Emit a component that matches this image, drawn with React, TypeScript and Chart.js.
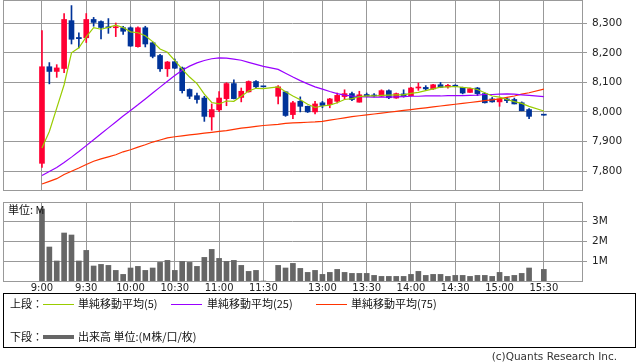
import React, { useEffect, useRef } from "react";
import { Chart, registerables } from "chart.js";

Chart.register(...registerables);

// ---- data ----
const times = [
  "9:00","9:05","9:10","9:15","9:20","9:25","9:30","9:35","9:40","9:45","9:50","9:55",
  "10:00","10:05","10:10","10:15","10:20","10:25","10:30","10:35","10:40","10:45","10:50","10:55",
  "11:00","11:05","11:10","11:15","11:20","11:25","11:30",
  "12:30","12:35","12:40","12:45","12:50","12:55",
  "13:00","13:05","13:10","13:15","13:20","13:25","13:30","13:35","13:40","13:45","13:50","13:55",
  "14:00","14:05","14:10","14:15","14:20","14:25","14:30","14:35","14:40","14:45","14:50","14:55",
  "15:00","15:05","15:10","15:15","15:20","15:30",
];

const opens = [
  7826,8153,8137,8147,8309,8252,8251,8313,8306,8288,8285,8285,
  8285,8221,8285,8234,8191,8146,8170,8149,8076,8055,8047,7983,
  8007,8045,8096,8049,8068,8103,8085,
  8053,8068,7991,8036,8019,8000,
  8031,8025,8036,8052,8062,8033,8059,8056,8053,8072,8047,8061,
  8055,8081,8083,8078,8092,8085,8090,8083,8066,8081,8062,8044,
  8034,8044,8042,8031,8008,7989,
];
const highs = [
  8275,8167,8160,8333,8360,8268,8333,8320,8308,8316,8301,8290,
  8288,8288,8290,8237,8195,8171,8179,8152,8078,8064,8053,8027,
  8069,8099,8109,8081,8105,8106,8085,
  8089,8070,8036,8051,8020,8036,
  8036,8046,8064,8075,8067,8070,8064,8062,8075,8075,8064,8075,
  8083,8098,8089,8093,8100,8093,8092,8084,8081,8083,8064,8049,
  8044,8049,8047,8034,8011,7989,
];
const lows = [
  7812,8095,8117,8133,8230,8217,8235,8290,8247,8266,8255,8262,
  8222,8219,8220,8183,8137,8120,8147,8064,8045,8030,7968,7938,
  8001,8021,8044,8034,8067,8079,8085,
  8027,7985,7977,8000,7998,7993,
  8014,8014,8030,8042,8038,8033,8051,8051,8052,8045,8046,8050,
  8054,8073,8073,8076,8082,8080,8085,8061,8066,8055,8030,8033,
  8019,8031,8027,8004,7977,7989,
];
const closes = [
  8153,8137,8149,8313,8246,8248,8313,8303,8286,8285,8287,8273,
  8223,8285,8230,8188,8146,8169,8148,8072,8053,8042,7985,8008,
  8047,8096,8045,8070,8103,8085,8085,
  8085,7988,8031,8019,8000,8027,
  8022,8044,8056,8062,8042,8058,8053,8054,8072,8048,8062,8053,
  8081,8084,8078,8092,8083,8090,8087,8064,8079,8062,8031,8034,
  8044,8038,8027,8004,7985,7989,
];
// volume, millions
const volumes = [
  3.6,1.7,1.0,2.4,2.3,1.0,1.53,0.75,0.83,0.78,0.53,0.33,
  0.65,0.73,0.53,0.65,0.93,1.03,0.53,0.98,0.93,0.73,1.18,1.58,
  1.13,0.98,1.03,0.78,0.48,0.53,0.0,
  0.78,0.65,0.88,0.63,0.43,0.53,
  0.33,0.43,0.58,0.43,0.38,0.38,0.38,0.28,0.23,0.23,0.23,0.23,
  0.33,0.48,0.28,0.33,0.33,0.23,0.28,0.28,0.23,0.28,0.28,0.23,
  0.43,0.23,0.28,0.38,0.65,0.58,
];
const sma5 = [
  7878,7934,8013,8092,8200,8217,8254,8285,8280,8286,8294,8286,
  8271,8268,8258,8238,8213,8202,8174,8145,8118,8096,8060,8032,
  8027,8037,8036,8053,8071,8080,8079,
  8085,8068,8054,8041,8026,8015,
  8020,8023,8031,8042,8045,8052,8054,8054,8056,8057,8058,8058,
  8063,8066,8072,8078,8084,8085,8086,8083,8081,8076,8065,8054,
  8050,8042,8035,8029,8019,8003,
];
const sma25 = [
  7785,7798,7812,7829,7847,7866,7886,7906,7926,7946,7966,7986,
  8005,8024,8044,8064,8084,8104,8123,8141,8155,8166,8174,8180,
  8183,8182,8179,8175,8168,8161,8154,
  8144,8131,8118,8106,8095,8085,
  8077,8069,8062,8057,8054,8052,8051,8050,8050,8050,8051,8052,
  8053,8053,8054,8054,8054,8055,8055,8055,8056,8057,8059,8059,
  8060,8061,8060,8058,8056,8052,
];
const sma75 = [
  7756,7765,7774,7788,7799,7810,7822,7833,7841,7848,7855,7865,
  7872,7881,7889,7898,7905,7912,7916,7919,7922,7925,7928,7931,
  7934,7937,7941,7945,7948,7951,7954,
  7958,7961,7963,7964,7965,7966,
  7968,7972,7976,7980,7984,7987,7990,7993,7996,7999,8002,8005,
  8008,8011,8014,8017,8020,8023,8026,8029,8032,8035,8038,8041,
  8044,8049,8054,8060,8065,8077,
];

const tickLabels = ["9:00","9:30","10:00","10:30","11:00","11:30","13:00","13:30","14:00","14:30","15:00","15:30"];
const priceTicks = [7800, 7900, 8000, 8100, 8200, 8300];
const volumeTicks = [1, 2, 3];

// ---- styles ----
const RED = "#FF0033";
const BLUE = "#003399";
const GRID = "#999999";
const C5 = "#99CC00";
const C25 = "#9900FF";
const C75 = "#FF3300";
const VOL = "#666666";
const AXIS_FONT = "DejaVu Sans";
const JP_FONT = '"Noto Sans CJK JP", "Noto Sans", sans-serif';

// session slot index: morning 9:00-11:30 -> 0..30, one empty slot, afternoon from 12:30 -> 32..
function slotOf(t: string): number {
  const [h, m] = t.split(":").map(Number);
  const min = h * 60 + m;
  return min <= 690 ? (min - 540) / 5 : (min - 750) / 5 + 32;
}
const xs = times.map(slotOf);
const tickSlots = tickLabels.map(slotOf);
const X_MIN = -5.28;
const X_MAX = 73.17;

const framePlugin = {
  id: "frame",
  beforeDatasetsDraw(chart: any) {
    const { ctx, chartArea: a } = chart;
    ctx.save();
    ctx.strokeStyle = GRID;
    ctx.lineWidth = 1;
    ctx.strokeRect(Math.round(a.left) + 0.5, Math.round(a.top) + 0.5, Math.round(a.right - a.left), Math.round(a.bottom - a.top));
    ctx.restore();
  },
};

function xScale(showLabels: boolean, height: number) {
  return {
    type: "linear",
    min: X_MIN,
    max: X_MAX,
    offset: false,
    afterBuildTicks: (s: any) => {
      s.ticks = tickSlots.map((v) => ({ value: v }));
    },
    afterFit: (s: any) => {
      s.height = height;
      s.paddingLeft = 0;
      s.paddingRight = 0;
      s.paddingTop = 0;
      s.paddingBottom = 0;
    },
    ticks: {
      display: showLabels,
      autoSkip: false,
      maxRotation: 0,
      minRotation: 0,
      padding: 1,
      color: "#222",
      font: { family: AXIS_FONT, size: 10 },
      callback: (v: number) => {
        const k = tickSlots.indexOf(v);
        return k >= 0 ? tickLabels[k] : "";
      },
    },
    grid: { color: GRID, lineWidth: 1, drawTicks: false, offset: false },
    border: { display: false },
  };
}

function yFit(s: any) {
  s.width = 56;
  s.paddingTop = 0;
  s.paddingBottom = 0;
  s.paddingLeft = 0;
  s.paddingRight = 0;
}

export default function App() {
  const topRef = useRef<HTMLCanvasElement | null>(null);
  const volRef = useRef<HTMLCanvasElement | null>(null);

  useEffect(() => {
    const colors = closes.map((c, i) => (c > opens[i] ? RED : BLUE));
    const top = new Chart(topRef.current as HTMLCanvasElement, {
      type: "bar",
      data: {
        datasets: [
          { type: "line", data: xs.map((x, i) => ({ x, y: sma5[i] })), borderColor: C5, borderWidth: 1.2, pointRadius: 0, order: 0 } as any,
          { type: "line", data: xs.map((x, i) => ({ x, y: sma25[i] })), borderColor: C25, borderWidth: 1.2, pointRadius: 0, order: 0 } as any,
          { type: "line", data: xs.map((x, i) => ({ x, y: sma75[i] })), borderColor: C75, borderWidth: 1.2, pointRadius: 0, order: 0 } as any,
          { type: "bar", data: xs.map((x, i) => ({ x, y: [lows[i], highs[i]] })), backgroundColor: colors, barThickness: 1, grouped: false, order: 2 } as any,
          { type: "bar", data: xs.map((x, i) => ({ x, y: [opens[i], closes[i]] })), backgroundColor: colors, barThickness: 5, minBarLength: 1, grouped: false, order: 1 } as any,
        ],
      },
      options: {
        responsive: false,
        animation: false,
        events: [],
        plugins: { legend: { display: false }, tooltip: { enabled: false } },
        layout: { padding: { left: 3, top: 0, right: 0, bottom: 0 } },
        scales: {
          x: xScale(false, 5) as any,
          y: {
            position: "right",
            min: 7735.7,
            max: 8378.9,
            afterBuildTicks: (s: any) => {
              s.ticks = priceTicks.map((v) => ({ value: v }));
            },
            afterFit: yFit,
            ticks: {
              padding: 5,
              color: "#222",
              font: { family: AXIS_FONT, size: 10.5 },
              callback: (v: any) => Number(v).toLocaleString("en-US"),
            },
            grid: { color: GRID, lineWidth: 1, tickLength: 5 },
            border: { display: false },
          },
        },
      },
      plugins: [framePlugin],
    });

    const vol = new Chart(volRef.current as HTMLCanvasElement, {
      type: "bar",
      data: {
        datasets: [
          { data: xs.map((x, i) => ({ x, y: volumes[i] })), backgroundColor: VOL, barThickness: 5, grouped: false } as any,
        ],
      },
      options: {
        responsive: false,
        animation: false,
        events: [],
        plugins: { legend: { display: false }, tooltip: { enabled: false } },
        layout: { padding: { left: 3, top: 7, right: 0, bottom: 0 } },
        scales: {
          x: xScale(true, 14) as any,
          y: {
            position: "right",
            min: 0,
            max: 3.95,
            afterBuildTicks: (s: any) => {
              s.ticks = volumeTicks.map((v) => ({ value: v }));
            },
            afterFit: yFit,
            ticks: {
              padding: 5,
              color: "#222",
              font: { family: AXIS_FONT, size: 10.5 },
              callback: (v: any) => `${v}M`,
            },
            grid: { color: GRID, lineWidth: 1, tickLength: 5 },
            border: { display: false },
          },
        },
      },
      plugins: [framePlugin],
    });

    return () => {
      top.destroy();
      vol.destroy();
    };
  }, []);

  const txt = (left: number, top: number, s: string, extra: any = {}) => (
    <span
      style={{
        position: "absolute",
        left,
        top,
        fontFamily: JP_FONT,
        fontSize: 11,
        lineHeight: "13px",
        color: "#111",
        whiteSpace: "nowrap",
        ...extra,
      }}
    >
      {s}
    </span>
  );
  const line = (left: number, top: number, color: string, h = 1) => (
    <div style={{ position: "absolute", left, top, width: 31, height: h, background: color }} />
  );

  return (
    <div style={{ position: "absolute", left: 0, top: 0, width: 638, height: 362, background: "#fff", overflow: "hidden" }}>
      <canvas ref={topRef} width={638} height={195} style={{ position: "absolute", left: 0, top: 0, width: 638, height: 195 }} />
      <canvas ref={volRef} width={638} height={100} style={{ position: "absolute", left: 0, top: 195, width: 638, height: 100 }} />
      {txt(8, 203, "単位: M")}
      <div
        style={{
          position: "absolute",
          left: 3,
          top: 293,
          width: 633,
          height: 55,
          boxSizing: "border-box",
          border: "1px solid #000",
        }}
      />
      {txt(10, 297, "上段：")}
      {line(43, 304, C5)}
      {txt(78, 297, "単純移動平均(5)")}
      {line(171, 304, C25)}
      {txt(207, 297, "単純移動平均(25)")}
      {line(316, 304, C75)}
      {txt(351, 297, "単純移動平均(75)")}
      {txt(10, 330, "下段：")}
      {line(43, 335, VOL, 4)}
      {txt(78, 330, "出来高 単位:(M株/口/枚)")}
      {txt(0, 350, "(c)Quants Research Inc.", { left: "auto", right: 21, color: "#333", fontFamily: "DejaVu Sans", fontSize: 10.5 })}
    </div>
  );
}
